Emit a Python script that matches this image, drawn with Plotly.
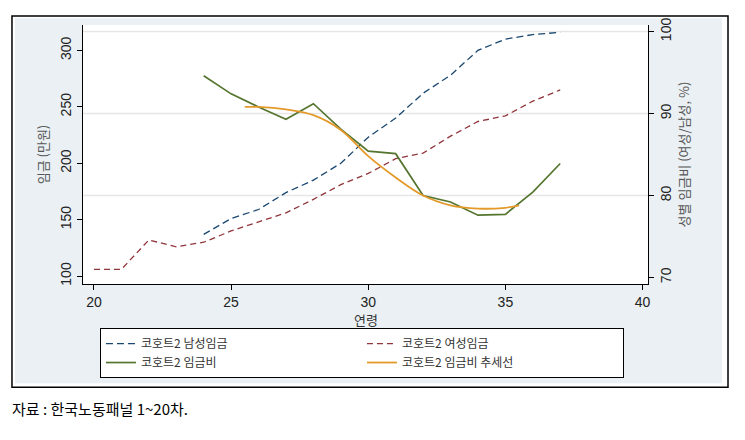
import plotly.graph_objects as go

# ages
age_male = [24, 25, 26, 27, 28, 29, 30, 31, 32, 33, 34, 35, 36, 37]
male_wage = [137, 151, 159, 174, 185, 200, 223, 240, 262, 278, 300, 310, 314, 316]

age_female = [20, 21, 22, 23, 24, 25, 26, 27, 28, 29, 30, 31, 32, 33, 34, 35, 36, 37]
female_wage = [106, 106, 132, 126, 130, 140, 148, 156, 168, 181, 191, 204, 209, 224, 237, 242, 255, 265]

age_ratio = [24, 25, 26, 27, 28, 29, 30, 31, 32, 33, 34, 35, 36, 37]
wage_ratio = [94.6, 92.4, 90.8, 89.3, 91.2, 88.1, 85.4, 85.1, 80.0, 79.2, 77.6, 77.7, 80.4, 83.9]

age_trend = [25.5, 26, 27, 28, 29, 30, 31, 32, 33, 34, 35, 35.5]
ratio_trend = [90.8, 90.8, 90.5, 89.8, 88.0, 84.8, 82.2, 80.0, 78.8, 78.4, 78.5, 78.8]

x_ticks = [20, 25, 30, 35, 40]
left_ticks = [100, 150, 200, 250, 300]
right_ticks = [70, 80, 90, 100]
grid_vals = [80, 90, 100]

FONT = "Liberation Sans, Arial, sans-serif"
KFONT = "Noto Sans CJK KR, sans-serif"

fig = go.Figure()

fig.add_trace(go.Scatter(x=age_male, y=male_wage, mode='lines', name='코호트2 남성임금',
                         line=dict(color='#1a476f', width=1.3, dash='7px,4px')))
fig.add_trace(go.Scatter(x=age_female, y=female_wage, mode='lines', name='코호트2 여성임금',
                         line=dict(color='#90353b', width=1.3, dash='6px,4px')))
fig.add_trace(go.Scatter(x=age_ratio, y=wage_ratio, mode='lines', name='코호트2 임금비',
                         line=dict(color='#55752f', width=1.7), yaxis='y2'))
fig.add_trace(go.Scatter(x=age_trend, y=ratio_trend, mode='lines', name='코호트2 임금비 추세선',
                         line=dict(color='#e39a2b', width=1.8, shape='spline'), yaxis='y2'))

# plot area (page has an 8px body margin): x 75..640, y 10..276 inside the figure
shapes = [
    # light blue-gray graph region
    dict(type='rect', xref='paper', yref='paper', x0=-0.1204, x1=1.131, y0=-0.3835, y1=1.0263,
         fillcolor='#eaf0f3', line=dict(width=0), layer='below'),
    # white plot region
    dict(type='rect', xref='paper', yref='paper', x0=0, x1=1, y0=0, y1=1,
         fillcolor='white', line=dict(width=0), layer='below'),
    # outer black frame
    dict(type='rect', xref='paper', yref='paper', x0=-0.1257, x1=1.1416, y0=-0.3985, y1=1.0348,
         fillcolor='rgba(0,0,0,0)', line=dict(color='black', width=1.5), layer='below'),
]
for g in grid_vals:
    shapes.append(dict(type='line', xref='paper', yref='y2', x0=0, x1=1, y0=g, y1=g,
                       line=dict(color='#e6e6e6', width=1.5), layer='below'))

fig.update_layout(
    width=745, height=440,
    margin=dict(l=75, r=105, t=10, b=164),
    paper_bgcolor='white',
    plot_bgcolor='rgba(0,0,0,0)',
    shapes=shapes,
    xaxis=dict(range=[19.6, 40.2], tickvals=x_ticks, showgrid=False, zeroline=False,
               showline=True, linecolor='black', linewidth=1, ticks='outside', ticklen=5,
               tickcolor='black', tickfont=dict(family=FONT, size=14, color='#222')),
    yaxis=dict(range=[93, 322.5], tickvals=left_ticks, showgrid=False, zeroline=False,
               showline=True, linecolor='black', linewidth=1, ticks='outside', ticklen=5,
               tickcolor='black', tickangle=-90, tickfont=dict(family=FONT, size=14, color='#222'),
               title=dict(text='임금 (만원)', standoff=6, font=dict(family=KFONT, size=13, color='#555'))),
    yaxis2=dict(range=[69.2, 100.8], tickvals=right_ticks, overlaying='y', side='right',
                showgrid=False, zeroline=False, showline=True, linecolor='black', linewidth=1,
                ticks='outside', ticklen=5, tickcolor='black', tickangle=-90,
                tickfont=dict(family=FONT, size=14, color='#222'),
                title=dict(text='성별 임금비 (여성/남성, %)', standoff=6,
                           font=dict(family=KFONT, size=13, color='#555'))),
    legend=dict(orientation='h', x=0.03, y=-0.17, xanchor='left', yanchor='top',
                bgcolor='white', bordercolor='black', borderwidth=1,
                entrywidth=216, entrywidthmode='pixels', traceorder='normal',
                font=dict(family=KFONT, size=12, color='#333'), tracegroupgap=0),
    showlegend=True,
    annotations=[
        dict(text='연령', xref='paper', yref='paper', x=0.5, y=-0.092, xanchor='center',
             yanchor='top', showarrow=False, font=dict(family=KFONT, size=13, color='#333')),
        dict(text='자료 : 한국노동패널 1~20차.', xref='paper', yref='paper',
             x=-0.13, y=-0.481, xanchor='left', yanchor='middle', showarrow=False,
             font=dict(family=KFONT, size=15, color='black')),
    ],
)

fig.write_html("out.html")
